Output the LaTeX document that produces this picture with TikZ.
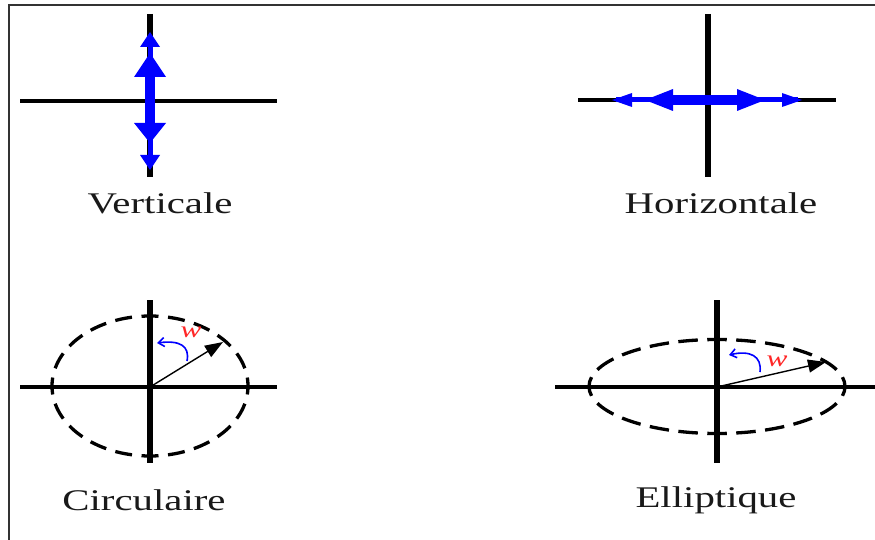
\documentclass[tikz,border=0pt]{standalone}
\usepackage{fontspec}
\setmainfont{Liberation Serif}
\usetikzlibrary{arrows.meta}
\tikzset{
  axisv/.style={line width=6.5pt, black},
  axish/.style={line width=3.5pt, black},
  orbitc/.style={line width=3.3pt, dash pattern=on 17pt off 9.575pt, dash phase=8.5pt},
  orbite/.style={line width=3.3pt, dash pattern=on 19.5pt off 9.48pt, dash phase=9.75pt},
  vec/.style={line width=1.4pt, -{Triangle[length=18pt,width=13pt]}},
  rot/.style={line width=1.6pt, blue, -{Straight Barb[length=6pt,width=9pt,line width=1.6pt]}},
  bluehead/.style={fill=blue, draw=none},
  label/.style={anchor=base, inner sep=0pt, font=\fontsize{30}{36}\selectfont, text=black!90},
  omega/.style={inner sep=0pt, text=red!85, font=\fontsize{23}{26}\selectfont\itshape},
}
\newcommand{\wide}[1]{\scalebox{1.36}[1]{#1}}
\begin{document}
\begin{tikzpicture}[x=1pt,y=-1pt]
\useasboundingbox (0,0) rectangle (875,540);
\fill[white] (0,0) rectangle (875,540);
% frame
\draw[line width=2.2pt, black!80] (9,541) -- (9,5) -- (876,5);

% ---------- Verticale ----------
\coordinate (v) at (150,101);
\draw[axish] (20,101) -- (277,101);
\draw[axisv] (150,14) -- (150,177);
\draw[blue, line width=5pt] (150,36) -- (150,166);
\fill[blue] (145,70) rectangle (155,130);
\fill[bluehead] (150,53) -- (166,77) -- (134,77) -- cycle;
\fill[bluehead] (150,32) -- (160,47) -- (140,47) -- cycle;
\fill[bluehead] (150,143) -- (166,123) -- (134,123) -- cycle;
\fill[bluehead] (150,170) -- (160,155) -- (140,155) -- cycle;
\node[label] (tv) at (160,213) {\wide{Verticale}};

% ---------- Horizontale ----------
\coordinate (h) at (708,100);
\draw[axish] (578,100) -- (836,100);
\draw[axisv] (708,14) -- (708,177);
\draw[blue, line width=5pt] (616,100) -- (798,100);
\fill[blue] (670,95) rectangle (740,105);
\fill[bluehead] (645,100) -- (673,89) -- (673,111) -- cycle;
\fill[bluehead] (612,100) -- (632,93) -- (632,107) -- cycle;
\fill[bluehead] (765,100) -- (737,89) -- (737,111) -- cycle;
\fill[bluehead] (802,100) -- (782,93) -- (782,107) -- cycle;
\node[label] (th) at (721,213) {\wide{Horizontale}};

% ---------- Circulaire ----------
\coordinate (c) at (150,387);
\coordinate (ctip) at (223,342);
\draw[axish] (20,387) -- (277,387);
\draw[axisv] (150,300) -- (150,463);
\draw[orbitc] (150,386) ellipse [x radius=98pt, y radius=70pt];
\draw[vec] (c) -- (ctip);
\coordinate (cr0) at (187,361);
\coordinate (cr1) at (157,343);
\draw[rot] (cr0) .. controls (190,346) and (180,340) .. (cr1);
\node[omega] (cw) at (191,332) {\wide{w}};
\node[label] (tc) at (144,510) {\wide{Circulaire}};

% ---------- Elliptique ----------
\coordinate (e) at (717,387);
\coordinate (etip) at (826,362);
\draw[axish] (555,387) -- (875,387);
\draw[axisv] (717,300) -- (717,463);
\draw[orbite] (717,386.5) ellipse [x radius=128pt, y radius=47pt];
\draw[vec] (e) -- (etip);
\coordinate (er0) at (760,372);
\coordinate (er1) at (729,355);
\draw[rot] (er0) .. controls (762,356) and (750,350) .. (er1);
\node[omega] (ew) at (777,361) {\wide{w}};
\node[label] (te) at (716,507) {\wide{Elliptique}};
\end{tikzpicture}
\end{document}
